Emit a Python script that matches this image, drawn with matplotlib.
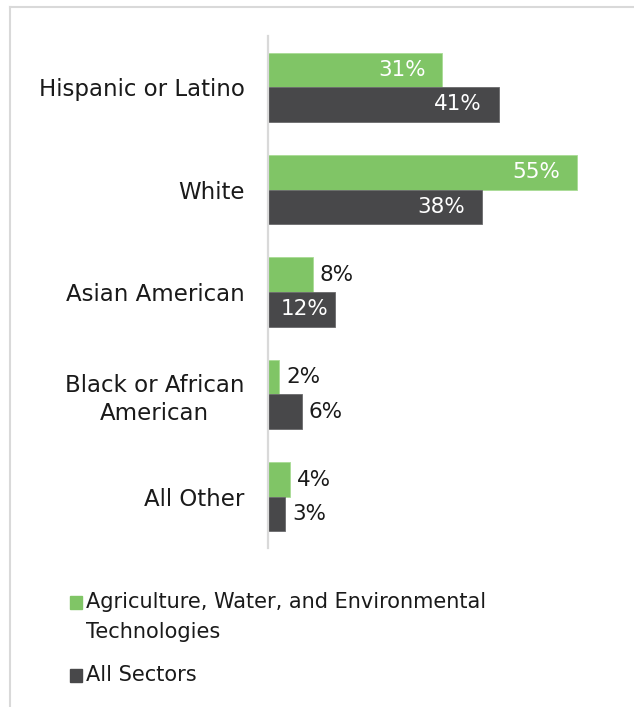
import matplotlib.pyplot as plt
from matplotlib.lines import Line2D
from matplotlib.patches import Rectangle

categories = ["Hispanic or Latino", "White", "Asian American",
              "Black or African\nAmerican", "All Other"]
agri_water_env = [31, 55, 8, 2, 4]
all_sectors = [41, 38, 12, 6, 3]
series_names = ["Agriculture, Water, and Environmental\nTechnologies", "All Sectors"]

green = "#80c566"
dark = "#48484a"
txt = "#1a1a1a"

plt.rcParams['font.family'] = ['DejaVu Sans']

fig = plt.figure(figsize=(6.34, 7.07), dpi=100)
ax = fig.add_axes([268 / 634, 1 - 548 / 707, 352 / 634, 512 / 707])

h = 0.337
ypos = list(range(len(categories)))
b1 = ax.barh([y - h / 2 for y in ypos], agri_water_env, height=h, color=green,
             edgecolor="#a9dc95", linewidth=0.6)
b2 = ax.barh([y + h / 2 for y in ypos], all_sectors, height=h, color=dark,
             edgecolor="#6a6a6c", linewidth=0.6)

ax.set_xlim(0, 62.6)
ax.set_ylim(4.5, -0.5)
ax.set_yticks(ypos)
ax.set_yticklabels(categories, fontsize=16.5, color=txt, multialignment="center",
                   linespacing=1.3)
ax.tick_params(axis="y", length=0, pad=17)
ax.set_xticks([])
for s in ["top", "right", "bottom"]:
    ax.spines[s].set_visible(False)
ax.spines["left"].set_color("#d9d9d9")
ax.spines["left"].set_linewidth(1.6)

# big values go inside the bar in white, small ones just past the end
for bars, vals in [(b1, agri_water_env), (b2, all_sectors)]:
    for bar, v in zip(bars, vals):
        yc = bar.get_y() + bar.get_height() / 2
        if v >= 10:
            off = -12 if v >= 20 else -5
            ax.annotate(f"{v}%", (v, yc), xytext=(off, 0), textcoords="offset points",
                        ha="right", va="center", color="white", fontsize=15.5)
        else:
            ax.annotate(f"{v}%", (v, yc), xytext=(5, 0), textcoords="offset points",
                        ha="left", va="center", color=txt, fontsize=15.5)

# legend drawn by hand so the marker sits on the first line
W, H = 634, 707
for (yy, col, name) in [(602, green, series_names[0]), (675, dark, series_names[1])]:
    fig.patches.append(Rectangle((70 / W, 1 - (yy + 6.5) / H), 12 / W, 13 / H,
                                 transform=fig.transFigure, color=col))
    fig.text(86 / W, 1 - (yy - 10) / H, name, ha="left", va="top",
             fontsize=15, color=txt, linespacing=1.6)

# light frame along top and left
fig.add_artist(Line2D([9.5 / W, 1], [1 - 6.5 / H, 1 - 6.5 / H], transform=fig.transFigure,
                      color="#d9d9d9", linewidth=1.5))
fig.add_artist(Line2D([9.5 / W, 9.5 / W], [0, 1 - 6.5 / H], transform=fig.transFigure,
                      color="#d9d9d9", linewidth=1.5))

fig.savefig("out.png", dpi=100)
